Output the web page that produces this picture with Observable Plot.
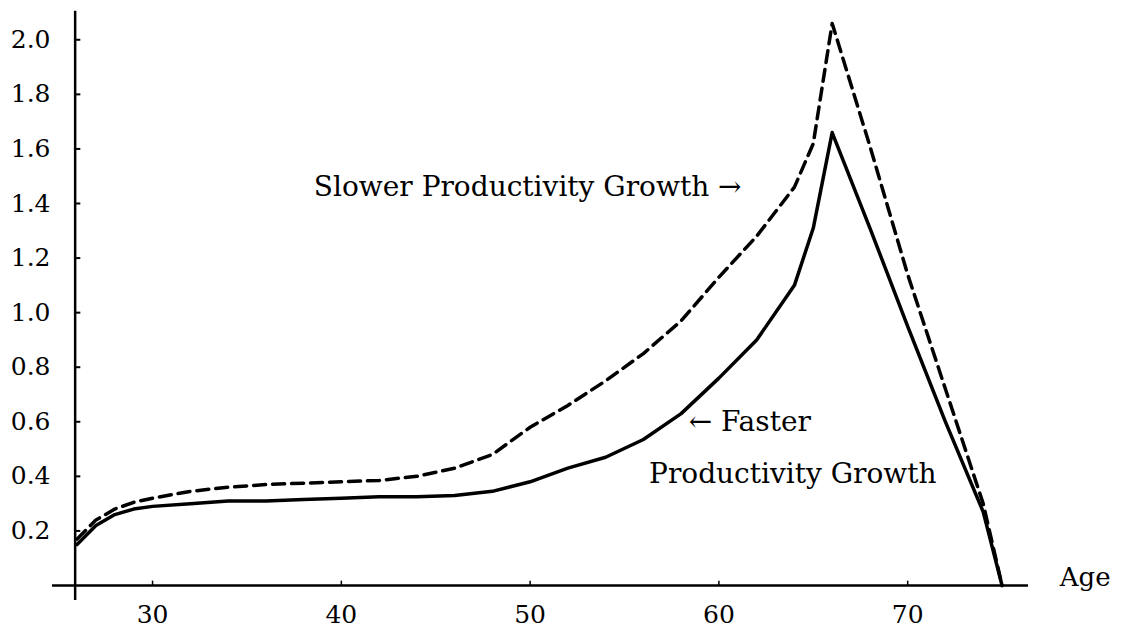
<!DOCTYPE html>
<html>
<head>
<meta charset="utf-8">
<script src="https://cdn.jsdelivr.net/npm/d3@7"></script>
<script src="https://cdn.jsdelivr.net/npm/@observablehq/plot@0.6"></script>
<style>
  html, body { margin: 0; padding: 0; background: white; }
  svg text { font-family: "DejaVu Serif", serif !important; }
</style>
</head>
<body>
<div id="chart"></div>
<script>
// Age (years)
const ages   = [26, 27, 28, 29, 30, 32, 34, 36, 38, 40, 42, 44, 46, 48, 50, 52, 54, 56, 58, 60, 62, 64, 65, 66, 68, 70, 72, 74, 75];
// Faster productivity growth (solid)
const faster = [0.15, 0.22, 0.26, 0.28, 0.29, 0.30, 0.31, 0.31, 0.315, 0.32, 0.325, 0.325, 0.33, 0.345, 0.38, 0.43, 0.47, 0.535, 0.63, 0.76, 0.90, 1.10, 1.31, 1.66, 1.31, 0.95, 0.60, 0.27, 0.0];
// Slower productivity growth (dashed)
const slower = [0.17, 0.24, 0.28, 0.305, 0.32, 0.345, 0.36, 0.37, 0.375, 0.38, 0.385, 0.40, 0.43, 0.48, 0.58, 0.66, 0.75, 0.85, 0.97, 1.13, 1.28, 1.46, 1.62, 2.06, 1.61, 1.14, 0.72, 0.30, 0.0];

const xTicks = [30, 40, 50, 60, 70];
const yTicks = [0.2, 0.4, 0.6, 0.8, 1.0, 1.2, 1.4, 1.6, 1.8, 2.0];

const fasterData = ages.map((a, i) => ({age: a, v: faster[i]}));
const slowerData = ages.map((a, i) => ({age: a, v: slower[i]}));

const yAxisAt = 25.9;
const serif = "DejaVu Serif";
const fs = 25;   // tick labels
const fa = 28;   // annotations

const chart = Plot.plot({
  width: 1121,
  height: 632,
  marginLeft: 52,
  marginRight: 93,
  marginTop: 12,
  marginBottom: 47,
  x: {domain: [24.7, 76.4], axis: null},
  y: {domain: [0, 2.1], axis: null},
  style: {background: "white", color: "black", fontFamily: serif, fontSize: fs + "px"},
  marks: [
    Plot.axisX({ticks: xTicks, tickSize: 0, tickPadding: 20, tickFormat: d => String(d), fontSize: fs, label: null}),
    Plot.axisY({ticks: yTicks, tickSize: 0, tickPadding: 2, tickFormat: d => d.toFixed(1), fontSize: fs, label: null}),
    // axis lines
    Plot.ruleY([0], {stroke: "black", strokeWidth: 2.5}),
    Plot.ruleX([yAxisAt], {y1: -0.055, y2: 2.105, stroke: "black", strokeWidth: 2.5}),
    // inward tick marks
    Plot.ruleY(yTicks, {x1: yAxisAt, x2: yAxisAt + 0.3, stroke: "black", strokeWidth: 2}),
    Plot.ruleX(xTicks, {y1: 0, y2: 0.016, stroke: "black", strokeWidth: 1.5}),
    // curves
    Plot.line(slowerData, {x: "age", y: "v", stroke: "black", strokeWidth: 3.5, strokeDasharray: "12,7"}),
    Plot.line(fasterData, {x: "age", y: "v", stroke: "black", strokeWidth: 3.5}),
    // annotations
    Plot.text(["Slower Productivity Growth \u2192"], {x: 61.2, y: 1.46, textAnchor: "end", fontSize: fa}),
    Plot.text(["\u2190 Faster"], {x: 58.4, y: 0.60, textAnchor: "start", fontSize: fa}),
    Plot.text(["Productivity Growth"], {x: 56.3, y: 0.41, textAnchor: "start", fontSize: fa}),
    Plot.text(["Age"], {x: 78.06, y: 0.03, textAnchor: "start", fontSize: 26})
  ]
});
document.getElementById("chart").appendChild(chart);
</script>
</body>
</html>
